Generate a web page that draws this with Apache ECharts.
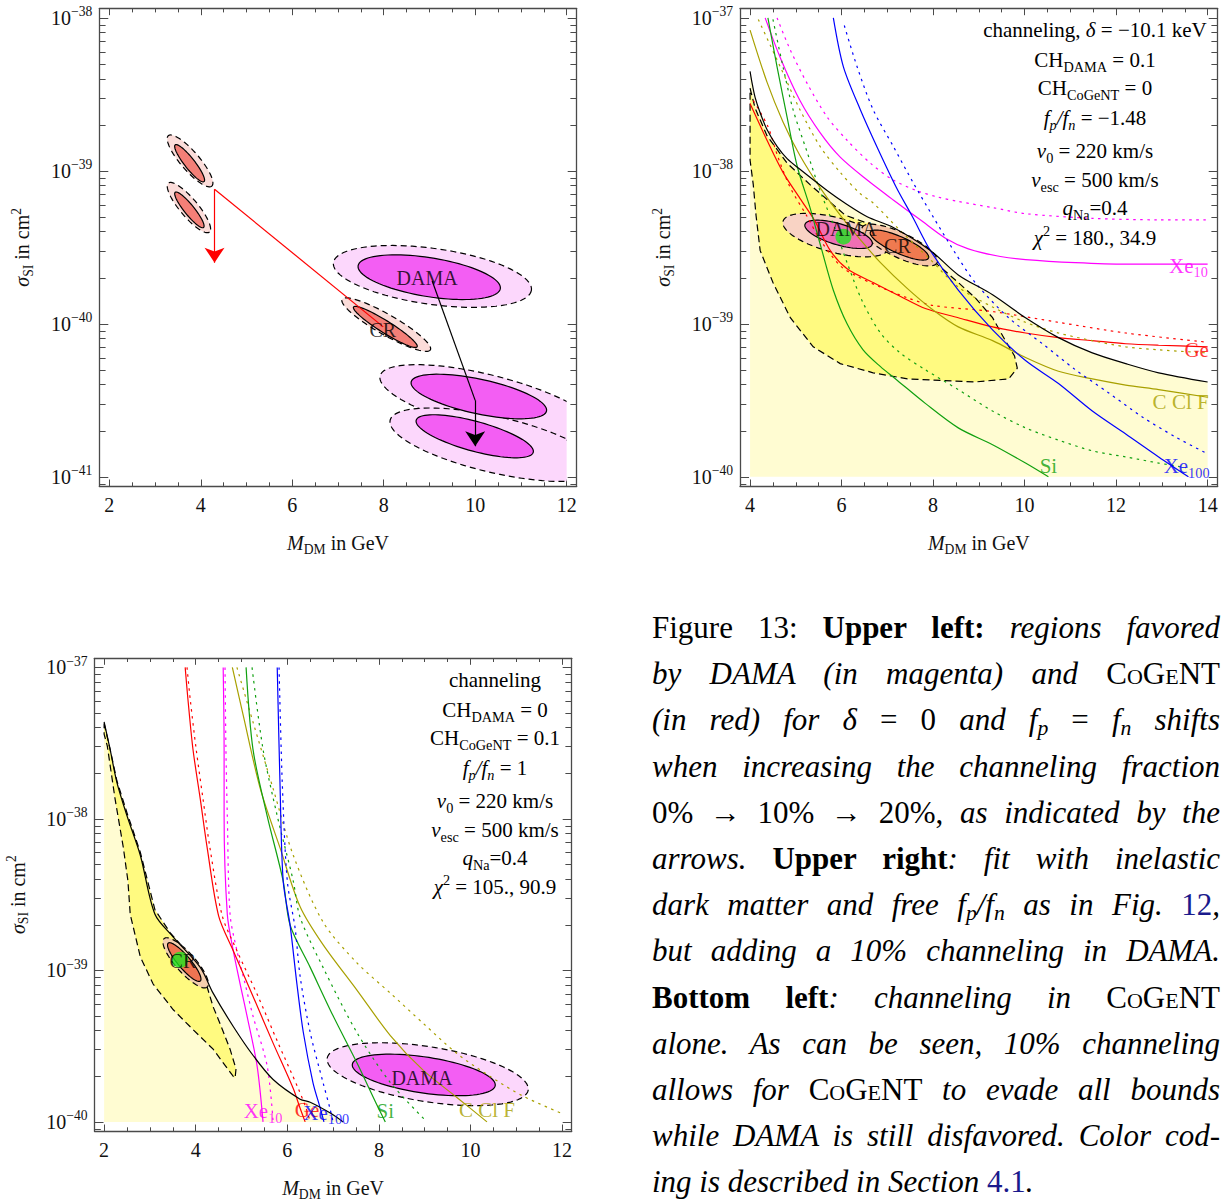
<!DOCTYPE html>
<html><head><meta charset="utf-8">
<script src="https://cdn.jsdelivr.net/npm/echarts@6/dist/echarts.min.js"></script>
<style>
html,body{margin:0;padding:0;background:#fff;overflow:hidden;width:1225px;height:1202px}
#chart{position:absolute;left:0;top:0;width:1225px;height:1202px}
#cap{position:absolute;left:652px;top:605px;width:568px;font-family:"Liberation Serif",serif;font-size:31px;line-height:46.2px;color:#000}
#cap div{text-align:justify;text-align-last:justify;height:46.2px;overflow:visible}
#cap div.last{text-align-last:left}
#cap sub{font-size:70%;vertical-align:-0.25em;line-height:0}
#cap .sc{font-variant:small-caps;font-style:normal}
#cap .ln{color:#1a1a8c;font-style:normal}
</style></head><body>
<div id="chart"></div>
<div id="cap">
<div>Figure 13: <b>Upper left:</b> <i>regions favored</i></div>
<div><i>by DAMA (in magenta) and</i> <span class="sc">CoGeNT</span></div>
<div><i>(in red) for δ</i> = 0 <i>and f<sub>p</sub></i> = <i>f<sub>n</sub> shifts</i></div>
<div><i>when increasing the channeling fraction</i></div>
<div>0% → 10% → 20%, <i>as indicated by the</i></div>
<div><i>arrows.</i> <b>Upper right</b><i>: fit with inelastic</i></div>
<div><i>dark matter and free f<sub>p</sub>/f<sub>n</sub> as in Fig.</i> <span class="ln">12</span><i>,</i></div>
<div><i>but adding a 10% channeling in DAMA.</i></div>
<div><b>Bottom left</b><i>: channeling in</i> <span class="sc">CoGeNT</span></div>
<div><i>alone. As can be seen, 10% channeling</i></div>
<div><i>allows for</i> <span class="sc">CoGeNT</span> <i>to evade all bounds</i></div>
<div><i>while DAMA is still disfavored. Color cod-</i></div>
<div class="last"><i>ing is described in Section</i> <span class="ln">4.1</span><i>.</i></div>
</div>
<script>
// All points: [M_DM in GeV, log10(sigma_SI / cm^2)]
// ---------------- Upper-left panel ----------------
const ulXTicks = [2, 4, 6, 8, 10, 12];
const ulYTicks = [-41, -40, -39, -38];
// ellipse contours: [x tip1, log10σ tip1, x tip2, log10σ tip2, width/length ratio]
const ulCogentOuter = [[3.29,-38.77,4.24,-39.10,0.28],[3.29,-39.08,4.19,-39.40,0.28],[7.09,-39.84,9.02,-40.17,0.20]];
const ulCogentInner = [[3.44,-38.83,4.07,-39.07,0.22],[3.44,-39.14,4.06,-39.37,0.22],[7.34,-39.89,8.73,-40.15,0.16]];
const ulDamaOuter = [[6.90,-39.60,11.23,-39.78,0.28],[7.92,-40.34,12.63,-40.69,0.25],[8.14,-40.63,12.74,-40.95,0.26]];
const ulDamaInner = [[7.44,-39.62,10.55,-39.77,0.27],[8.60,-40.38,11.56,-40.57,0.25],[8.71,-40.63,11.27,-40.84,0.245]];
const ulRedPath = [[4.30,-39.12],[7.99,-40.02]];
const ulRedArrow = [[4.30,-39.12],[4.30,-39.60]];
const ulBlackPath = [[9.06,-39.72],[10.00,-40.50]];
const ulBlackArrow = [[10.00,-40.50],[10.00,-40.80]];
const ulLabels = [['{n|DAMA}',8.95,-39.70,'#000'],['{n|CR}',7.98,-40.04,'#000']];

// ---------------- Upper-right panel ----------------
const urXTicks = [4, 6, 8, 10, 12, 14];
const urYTicks = [-40, -39, -38, -37];
const urBlack = [[4.00,-37.35],[4.04,-37.42],[4.11,-37.52],[4.22,-37.62],[4.37,-37.73],[4.59,-37.84],[4.81,-37.92],[5.09,-37.99],[5.69,-38.13],[6.12,-38.22],[6.56,-38.30],[7.13,-38.37],[7.94,-38.52],[8.55,-38.68],[9.30,-38.81],[10.02,-38.96],[10.74,-39.09],[11.48,-39.19],[12.21,-39.26],[12.93,-39.32],[14.00,-39.38]];
const urBright = [[4.00,-37.46],[4.11,-37.59],[4.37,-37.77],[4.81,-37.95],[5.31,-38.09],[6.08,-38.29],[7.28,-38.42],[8.05,-38.60],[8.55,-38.73],[8.92,-38.83],[9.30,-38.96],[9.58,-39.11],[9.78,-39.21],[9.84,-39.29],[9.65,-39.36],[8.92,-39.38],[8.16,-39.37],[7.44,-39.36],[6.69,-39.32],[5.97,-39.26],[5.38,-39.15],[4.88,-38.96],[4.50,-38.73],[4.22,-38.52],[4.13,-38.29],[4.07,-38.09],[4.00,-37.93]];
const urRed = [[4.00,-37.56],[4.37,-37.80],[4.72,-38.01],[5.09,-38.18],[5.42,-38.33],[5.75,-38.52],[6.12,-38.64],[6.69,-38.73],[7.28,-38.82],[7.83,-38.90],[8.55,-38.96],[9.30,-39.02],[10.02,-39.06],[10.74,-39.09],[11.48,-39.11],[12.21,-39.13],[12.93,-39.14],[14.00,-39.15]];
const urRedDot = [[4.07,-37.54],[4.39,-37.71],[4.61,-37.91],[4.88,-38.11],[5.25,-38.30],[5.53,-38.45],[5.97,-38.62],[6.34,-38.69],[6.85,-38.76],[7.44,-38.83],[8.00,-38.88],[9.30,-38.92],[10.74,-38.99],[12.21,-39.06],[14.00,-39.12]];
const urMag = [[4.33,-37.00],[4.66,-37.26],[5.09,-37.54],[5.53,-37.75],[5.97,-37.91],[6.56,-38.06],[7.13,-38.19],[7.72,-38.32],[8.27,-38.44],[8.77,-38.51],[9.47,-38.56],[10.02,-38.58],[11.11,-38.60],[12.21,-38.61],[14.00,-38.61]];
const urMagDot = [[4.59,-37.00],[4.88,-37.21],[5.25,-37.43],[5.69,-37.65],[6.12,-37.80],[6.63,-37.95],[7.13,-38.06],[7.65,-38.13],[8.09,-38.17],[8.55,-38.20],[9.30,-38.24],[10.02,-38.28],[11.48,-38.31],[12.93,-38.32],[14.00,-38.32]];
const urOlive = [[4.00,-37.08],[4.37,-37.42],[4.72,-37.68],[5.09,-37.90],[5.53,-38.11],[5.97,-38.29],[6.41,-38.45],[6.85,-38.60],[7.44,-38.77],[8.00,-38.91],[8.55,-39.02],[9.30,-39.11],[10.02,-39.22],[10.74,-39.31],[11.48,-39.36],[12.21,-39.40],[12.93,-39.43],[14.00,-39.48]];
const urOliveDot = [[4.18,-37.01],[4.66,-37.32],[5.09,-37.60],[5.53,-37.84],[5.97,-38.01],[6.41,-38.15],[6.69,-38.21],[7.28,-38.39],[7.94,-38.58],[8.55,-38.76],[9.30,-38.89],[10.02,-38.99],[10.74,-39.06],[11.48,-39.11],[12.21,-39.15],[12.93,-39.17],[14.00,-39.19]];
const urGreen = [[4.39,-37.00],[4.59,-37.32],[4.81,-37.65],[5.03,-37.97],[5.31,-38.24],[5.57,-38.52],[5.82,-38.78],[6.12,-39.00],[6.47,-39.17],[6.85,-39.28],[7.22,-39.37],[7.83,-39.52],[8.55,-39.68],[9.30,-39.79],[10.02,-39.91],[10.52,-40.00]];
const urGreenDot = [[4.50,-37.01],[4.72,-37.32],[4.94,-37.60],[5.25,-37.88],[5.53,-38.13],[5.82,-38.35],[6.12,-38.60],[6.45,-38.85],[6.85,-39.06],[7.28,-39.19],[7.83,-39.30],[8.55,-39.43],[9.30,-39.57],[10.02,-39.68],[10.74,-39.76],[11.48,-39.83],[12.21,-39.87],[12.93,-39.91],[13.52,-39.94]];
const urBlue = [[5.82,-37.00],[6.04,-37.32],[6.41,-37.60],[6.80,-37.86],[7.20,-38.11],[7.55,-38.30],[7.94,-38.52],[8.55,-38.78],[9.30,-39.04],[10.02,-39.24],[10.74,-39.39],[11.48,-39.57],[12.21,-39.72],[12.93,-39.87],[13.58,-40.00]];
const urBlueDot = [[6.06,-37.05],[6.34,-37.32],[6.69,-37.60],[7.13,-37.84],[7.57,-38.08],[8.00,-38.30],[8.49,-38.54],[8.92,-38.73],[9.65,-38.96],[10.39,-39.13],[11.11,-39.30],[11.83,-39.45],[12.58,-39.61],[13.30,-39.74],[14.00,-39.85]];
const urDamaOuter = [[4.72,-38.33,7.02,-38.51,0.32]];
const urDamaInner = [[5.20,-38.35,6.67,-38.48,0.30]];
const urCrOuter = [[6.45,-38.37,8.09,-38.60,0.30]];
const urCrInner = [[6.63,-38.40,7.90,-38.57,0.26]];
const urBest = [[6.04,-38.43]];
const urLabels = [['{n|DAMA}',6.10,-38.38,'#000',20],['{n|CR}',7.22,-38.49,'#000',20],['{n|Xe}{s|10}',13.58,-38.62,'#ff00ff',21],['{n|Ge}',13.76,-39.17,'#ff0000',21],['{n|C Cl F}',13.41,-39.51,'#a8a000',21],['{n|Si}',10.52,-39.93,'#10a010',21],['{n|Xe}{s|100}',13.54,-39.93,'#0000ff',21]];
const urNotes = ['{n|channeling, }{i|δ}{n| = −10.1 keV}','{n|CH}{s|DAMA}{n| = 0.1}','{n|CH}{s|CoGeNT}{n| = 0}','{i|f}{is|p}{i|/f}{is|n}{n| = −1.48}','{i|v}{s|0}{n| = 220 km/s}','{i|v}{s|esc}{n| = 500 km/s}','{i|q}{s|Na}{n|=0.4}','{i|χ}{p|2}{n| = 180., 34.9}'];

// ---------------- Bottom-left panel ----------------
const blXTicks = [2, 4, 6, 8, 10, 12];
const blYTicks = [-40, -39, -38, -37];
const blBlack = [[2.00,-37.36],[2.13,-37.54],[2.28,-37.76],[2.50,-37.98],[2.79,-38.24],[3.11,-38.63],[3.51,-38.78],[4.10,-38.98],[4.38,-39.15],[4.82,-39.37],[5.25,-39.56],[5.69,-39.72],[6.28,-39.85],[6.50,-39.87],[6.93,-39.94],[7.22,-40.00]];
const blBright = [[2.00,-37.37],[2.13,-37.54],[2.28,-37.75],[2.50,-37.96],[2.79,-38.22],[3.11,-38.60],[3.44,-38.75],[3.88,-38.90],[4.25,-39.11],[4.38,-39.24],[4.53,-39.35],[4.75,-39.52],[4.88,-39.65],[4.86,-39.71],[4.82,-39.70],[4.38,-39.52],[3.94,-39.39],[3.51,-39.26],[3.07,-39.09],[2.79,-38.91],[2.57,-38.63],[2.52,-38.41],[2.42,-38.19],[2.24,-37.87],[2.07,-37.52],[2.00,-37.44]];
const blRed = [[3.77,-37.00],[3.83,-37.21],[3.94,-37.54],[4.10,-37.87],[4.25,-38.19],[4.50,-38.64],[4.82,-38.87],[5.25,-39.17],[5.69,-39.48],[6.13,-39.78],[6.28,-39.91],[6.39,-40.00]];
const blRedDot = [[3.81,-37.00],[3.88,-37.21],[4.01,-37.54],[4.16,-37.87],[4.31,-38.19],[4.58,-38.64],[4.90,-38.87],[5.36,-39.17],[5.80,-39.48],[6.24,-39.78],[6.41,-39.91],[6.50,-40.00]];
const blMag = [[4.60,-37.00],[4.62,-37.54],[4.62,-37.98],[4.69,-38.63],[4.82,-38.87],[4.97,-39.09],[5.12,-39.30],[5.34,-39.63],[5.47,-40.00]];
const blMagDot = [[4.64,-37.00],[4.66,-37.54],[4.69,-37.98],[4.75,-38.63],[4.90,-38.87],[5.08,-39.09],[5.25,-39.30],[5.56,-39.63],[5.69,-40.00]];
const blOlive = [[4.80,-37.00],[5.04,-37.32],[5.41,-37.80],[5.84,-38.19],[6.28,-38.58],[6.78,-38.83],[7.52,-39.13],[8.25,-39.43],[8.97,-39.66],[9.71,-39.84],[10.36,-40.00]];
const blOliveDot = [[4.90,-37.00],[5.25,-37.36],[5.69,-37.80],[6.13,-38.24],[6.78,-38.68],[7.52,-38.95],[8.25,-39.15],[8.97,-39.35],[9.71,-39.55],[10.43,-39.70],[11.15,-39.83],[11.96,-39.94]];
const blGreen = [[5.10,-37.00],[5.25,-37.54],[5.56,-37.98],[5.91,-38.41],[6.06,-38.70],[6.50,-38.98],[7.00,-39.30],[7.52,-39.61],[7.96,-39.89],[8.14,-40.00]];
const blGreenDot = [[5.23,-37.00],[5.47,-37.54],[5.78,-37.98],[6.13,-38.41],[6.28,-38.65],[6.78,-38.98],[7.52,-39.41],[8.25,-39.74],[9.05,-40.00]];
const blBlue = [[5.78,-37.00],[5.84,-37.76],[5.91,-38.41],[6.06,-38.70],[6.21,-39.09],[6.35,-39.41],[6.56,-39.74],[6.72,-39.91],[6.80,-40.00]];
const blBlueDot = [[5.82,-37.00],[5.89,-37.76],[6.00,-38.41],[6.17,-38.72],[6.28,-39.04],[6.50,-39.41],[6.78,-39.74],[6.93,-39.91],[7.00,-40.00]];
const blCrOuter = [[3.31,-38.79,4.25,-39.11,0.30]];
const blCrInner = [[3.40,-38.82,4.10,-39.07,0.25]];
const blDamaOuter = [[6.87,-39.58,11.26,-39.79,0.27]];
const blDamaInner = [[7.42,-39.62,10.54,-39.76,0.25]];
const blBest = [[3.66,-38.93]];
const blLabels = [['{n|DAMA}',8.94,-39.71,'#000',20],['{n|CR}',3.72,-38.94,'#000',20],['{n|Xe}{s|10}',5.47,-39.93,'#ff00ff',21],['{n|Ge}',6.43,-39.92,'#ff0000',21],['{n|Xe}{s|100}',6.85,-39.94,'#0000ff',21],['{n|Si}',8.14,-39.93,'#10a010',21],['{n|C Cl F}',10.36,-39.92,'#a8a000',21]];
const blNotes = ['{n|channeling}','{n|CH}{s|DAMA}{n| = 0}','{n|CH}{s|CoGeNT}{n| = 0.1}','{i|f}{is|p}{i|/f}{is|n}{n| = 1}','{i|v}{s|0}{n| = 220 km/s}','{i|v}{s|esc}{n| = 500 km/s}','{i|q}{s|Na}{n|=0.4}','{i|χ}{p|2}{n| = 105., 90.9}'];

// ---------------- building ----------------
const FONT = '"Liberation Serif","Times New Roman",serif';
const FRAME = '#4a4a4a';
function RICH(fs, color) {
  return {
    n: {fontSize: fs, fontFamily: FONT, color, lineHeight: fs * 1.3},
    i: {fontSize: fs, fontFamily: FONT, color, fontStyle: 'italic', lineHeight: fs * 1.3},
    s: {fontSize: fs * 0.68, fontFamily: FONT, color, verticalAlign: 'bottom', lineHeight: fs * 0.75},
    is: {fontSize: fs * 0.68, fontFamily: FONT, color, fontStyle: 'italic', verticalAlign: 'bottom', lineHeight: fs * 0.75},
    p: {fontSize: fs * 0.68, fontFamily: FONT, color, verticalAlign: 'top', lineHeight: fs * 0.75}
  };
}
const panels = [
  {grid: {left: 99.3, top: 8.7, width: 477.4, height: 477.3}, x: [1.78, 12.22], y: [-41.06, -37.94], xt: ulXTicks, yt: ulYTicks},
  {grid: {left: 740, top: 8.7, width: 477.7, height: 477.3}, x: [3.78, 14.22], y: [-40.06, -36.94], xt: urXTicks, yt: urYTicks},
  {grid: {left: 94.5, top: 658.3, width: 477.2, height: 477.7}, x: [1.79, 12.21], y: [-40.06, -36.94], xt: blXTicks, yt: blYTicks}
];
const xAxes = [], yAxes = [];
panels.forEach((p, g) => {
  const xMinor = [];
  for (let v = Math.ceil(p.x[0] * 2) / 2; v <= p.x[1]; v += 0.5) if (!p.xt.includes(v)) xMinor.push(v);
  const yMinor = [];
  for (let n = Math.floor(p.y[0]); n < Math.ceil(p.y[1]); n++)
    for (let k = 2; k <= 9; k++) { const v = n + Math.log10(k); if (v > p.y[0] && v < p.y[1]) yMinor.push(v); }
  const line = {show: true, onZero: false, lineStyle: {color: FRAME, width: 1.3}};
  const tick = (vals, len) => ({show: true, inside: true, length: len, customValues: vals, lineStyle: {color: FRAME, width: 1}});
  const bx = {gridIndex: g, type: 'value', min: p.x[0], max: p.x[1], splitLine: {show: false}};
  const by = {gridIndex: g, type: 'value', min: p.y[0], max: p.y[1], splitLine: {show: false}};
  xAxes.push(Object.assign({}, bx, {position: 'bottom', axisLine: line, axisTick: tick(p.xt, 6.5),
    axisLabel: {show: true, customValues: p.xt, margin: 9, fontFamily: FONT, fontSize: 20, color: '#111'},
    name: '{i|M}{s|DM}{n| in GeV}', nameLocation: 'middle', nameGap: 44, nameTextStyle: {rich: RICH(20, '#111')}}));
  xAxes.push(Object.assign({}, bx, {position: 'bottom', axisLine: {show: false}, axisTick: tick(xMinor, 3.7), axisLabel: {show: false}}));
  xAxes.push(Object.assign({}, bx, {position: 'top', axisLine: line, axisTick: tick(p.xt, 6.5), axisLabel: {show: false}}));
  xAxes.push(Object.assign({}, bx, {position: 'top', axisLine: {show: false}, axisTick: tick(xMinor, 3.7), axisLabel: {show: false}}));
  yAxes.push(Object.assign({}, by, {position: 'left', axisLine: line, axisTick: tick(p.yt, 9),
    axisLabel: {show: true, customValues: p.yt, margin: 7, formatter: v => '{n|10}{p|−' + Math.abs(Math.round(v)) + '}', rich: RICH(20, '#111')},
    name: '{i|σ}{s|SI}{n| in cm}{p|2}', nameLocation: 'middle', nameGap: 64, nameRotate: 90, nameTextStyle: {rich: RICH(20, '#111')}}));
  yAxes.push(Object.assign({}, by, {position: 'left', axisLine: {show: false}, axisTick: tick(yMinor, 6.3), axisLabel: {show: false}}));
  yAxes.push(Object.assign({}, by, {position: 'right', axisLine: line, axisTick: tick(p.yt, 9), axisLabel: {show: false}}));
  yAxes.push(Object.assign({}, by, {position: 'right', axisLine: {show: false}, axisTick: tick(yMinor, 6.3), axisLabel: {show: false}}));
});
const ax = g => ({xAxisIndex: 4 * g, yAxisIndex: 4 * g});
const series = [];
function region(g, pts, fill, stroke, dash, z) {
  series.push(Object.assign({type: 'custom', silent: true, z: z, data: pts, encode: {x: 0, y: 1},
    renderItem: (params, api) => {
      if (params.dataIndex !== 0) return null;
      const P = pts.map(p => api.coord(p));
      return {type: 'polygon', shape: {points: P}, style: {fill: fill, stroke: stroke || null, lineWidth: 1.2, lineDash: dash || null}};
    }}, ax(g)));
}
function ellipses(g, list, fill, stroke, dash, dom, z) {
  series.push(Object.assign({type: 'custom', silent: true, z: z, data: list, dimensions: ['x1', 'y1', 'x2', 'y2', 'r'], encode: {x: [0, 2], y: [1, 3]},
    renderItem: (params, api) => {
      const p1 = api.coord([api.value(0), api.value(1)]), p2 = api.coord([api.value(2), api.value(3)]), r = api.value(4);
      const cx = (p1[0] + p2[0]) / 2, cy = (p1[1] + p2[1]) / 2, dx = (p2[0] - p1[0]) / 2, dy = (p2[1] - p1[1]) / 2;
      const pts = [];
      for (let k = 0; k < 90; k++) {
        const t = k / 90 * 2 * Math.PI, c = Math.cos(t), s = Math.sin(t);
        pts.push([cx + dx * c - dy * r * s, cy + dy * c + dx * r * s]);
      }
      const el = {type: 'polygon', shape: {points: pts}, style: {fill: fill, stroke: stroke, lineWidth: 1.2, lineDash: dash || null}};
      if (!dom) return el;
      const a = api.coord([dom[0], dom[3]]), b = api.coord([dom[1], dom[2]]);
      return {type: 'group', children: [el], clipPath: {type: 'rect', shape: {x: a[0], y: a[1], width: b[0] - a[0], height: b[1] - a[1]}}};
    }}, ax(g)));
}
function curve(g, pts, color, dotted, z) {
  series.push(Object.assign({type: 'line', data: pts, symbol: 'none', smooth: 0.3, silent: true, z: z || 4,
    lineStyle: {color: color, width: 1.2, type: dotted ? [2.5, 4.5] : 'solid'}}, ax(g)));
}
function arrow(g, pts, color, head) {
  series.push(Object.assign({type: 'lines', coordinateSystem: 'cartesian2d', silent: true, z: 8,
    symbol: head ? ['none', 'arrow'] : ['none', 'none'], symbolSize: [0, 15],
    lineStyle: {color: color, width: 1.2, opacity: 1}, data: [{coords: pts}]}, ax(g)));
}
function labels(g, list) {
  series.push(Object.assign({type: 'scatter', silent: true, z: 15, symbolSize: 1, itemStyle: {color: 'rgba(0,0,0,0)'},
    data: list.map(l => ({value: [l[1], l[2]], label: {show: true, position: 'inside', formatter: l[0], rich: RICH(l[4], l[3])}}))}, ax(g)));
}
function dots(g, pts) {
  series.push(Object.assign({type: 'scatter', silent: true, z: 10, symbolSize: 16, itemStyle: {color: '#1ee61e'}, data: pts}, ax(g)));
}

// upper left
const ulDom = [2, 12, -41.06, -37.94];
ellipses(0, ulDamaOuter, '#fcd7fc', '#000', [6, 4], ulDom, 2);
ellipses(0, ulDamaInner, '#f35ef3', '#000', null, ulDom, 3);
ellipses(0, ulCogentOuter, '#fbdcd9', '#000', [6, 4], null, 2);
ellipses(0, ulCogentInner, '#f47f77', '#000', null, null, 3);
arrow(0, ulRedPath, '#ff0000', false);
arrow(0, ulRedArrow, '#ff0000', true);
arrow(0, ulBlackPath, '#000', false);
arrow(0, ulBlackArrow, '#000', true);
labels(0, ulLabels.map(l => l.concat([20])));

// upper right
region(1, urBlack.concat([[14, -40], [4, -40]]), '#fffcd2', null, null, 1);
region(1, urBright, '#fffa80', '#000', [7, 4], 2);
ellipses(1, urDamaOuter, '#f9d3c4', '#000', [6, 4], null, 3);
ellipses(1, urCrOuter, '#f6c6a8', '#000', [6, 4], null, 3);
ellipses(1, urDamaInner, '#ef6fb4', '#000', null, null, 3);
ellipses(1, urCrInner, '#ef7a50', '#000', null, null, 3);
curve(1, urMag, '#ff00ff'); curve(1, urMagDot, '#ff00ff', true);
curve(1, urRed, '#ff0000'); curve(1, urRedDot, '#ff0000', true);
curve(1, urOlive, '#a8a000'); curve(1, urOliveDot, '#a8a000', true);
curve(1, urGreen, '#10a010'); curve(1, urGreenDot, '#10a010', true);
curve(1, urBlue, '#0000ff'); curve(1, urBlueDot, '#0000ff', true);
curve(1, urBlack, '#000', false, 5);
dots(1, urBest);
labels(1, urLabels);

// bottom left
region(2, blBlack.concat([[2, -40]]), '#fffcd2', null, null, 1);
region(2, blBright, '#fffa80', '#000', [7, 4], 2);
ellipses(2, blDamaOuter, '#fcd7fc', '#000', [6, 4], null, 3);
ellipses(2, blDamaInner, '#f35ef3', '#000', null, null, 3);
ellipses(2, blCrOuter, '#f5cfae', '#000', [6, 4], null, 3);
ellipses(2, blCrInner, '#ef7452', '#000', null, null, 3);
curve(2, blMag, '#ff00ff'); curve(2, blMagDot, '#ff00ff', true);
curve(2, blRed, '#ff0000'); curve(2, blRedDot, '#ff0000', true);
curve(2, blOlive, '#a8a000'); curve(2, blOliveDot, '#a8a000', true);
curve(2, blGreen, '#10a010'); curve(2, blGreenDot, '#10a010', true);
curve(2, blBlue, '#0000ff'); curve(2, blBlueDot, '#0000ff', true);
curve(2, blBlack, '#000', false, 5);
dots(2, blBest);
labels(2, blLabels);

const graphic = [];
urNotes.forEach((t, i) => graphic.push({type: 'text', x: 1095, y: [30, 60, 88, 118, 151, 180, 208, 238][i], z: 20,
  style: {text: t, rich: RICH(21, '#000'), align: 'center', verticalAlign: 'middle', textAlign: 'center', textVerticalAlign: 'middle'}}));
blNotes.forEach((t, i) => graphic.push({type: 'text', x: 495, y: [680, 710, 738, 768, 801, 830, 858, 887][i], z: 20,
  style: {text: t, rich: RICH(21, '#000'), align: 'center', verticalAlign: 'middle', textAlign: 'center', textVerticalAlign: 'middle'}}));

const chart = echarts.init(document.getElementById('chart'), null, {renderer: 'svg', width: 1225, height: 1202});
chart.setOption({
  animation: false,
  backgroundColor: '#fff',
  grid: panels.map(p => Object.assign({containLabel: false}, p.grid)),
  xAxis: xAxes, yAxis: yAxes, series: series, graphic: graphic
});
</script>
</body></html>
